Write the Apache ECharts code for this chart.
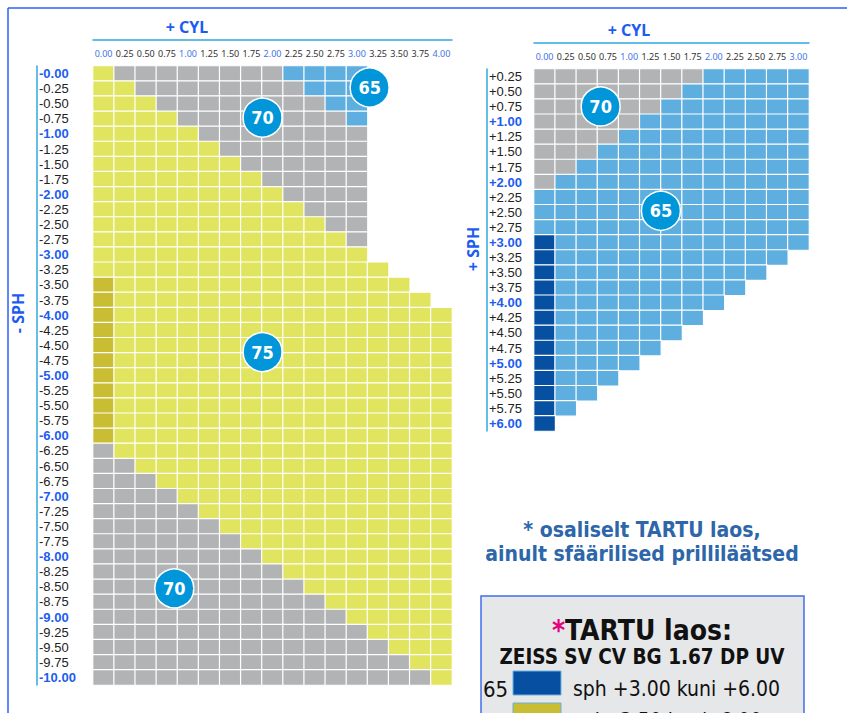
<!DOCTYPE html>
<html>
<head>
<meta charset="utf-8">
<script src="https://cdn.jsdelivr.net/npm/echarts@6/dist/echarts.min.js"></script>
<style>
  html, body { margin: 0; padding: 0; background: #fff; }
  #chart { width: 847px; height: 713px; }
</style>
</head>
<body>
<div id="chart"></div>
<script>
// ---- data ----
const leftCyl = ['0.00','0.25','0.50','0.75','1.00','1.25','1.50','1.75','2.00','2.25','2.50','2.75','3.00','3.25','3.50','3.75','4.00'];
const leftSph = ['-0.00','-0.25','-0.50','-0.75','-1.00','-1.25','-1.50','-1.75','-2.00','-2.25','-2.50','-2.75',
  '-3.00','-3.25','-3.50','-3.75','-4.00','-4.25','-4.50','-4.75','-5.00','-5.25','-5.50','-5.75','-6.00',
  '-6.25','-6.50','-6.75','-7.00','-7.25','-7.50','-7.75','-8.00','-8.25','-8.50','-8.75','-9.00','-9.25',
  '-9.50','-9.75','-10.00'];
const rightCyl = ['0.00','0.25','0.50','0.75','1.00','1.25','1.50','1.75','2.00','2.25','2.50','2.75','3.00'];
const rightSph = ['+0.25','+0.50','+0.75','+1.00','+1.25','+1.50','+1.75','+2.00','+2.25','+2.50','+2.75','+3.00',
  '+3.25','+3.50','+3.75','+4.00','+4.25','+4.50','+4.75','+5.00','+5.25','+5.50','+5.75','+6.00'];

// one char per cyl column: Y = 1.67 index 75, D = 75 in Tartu stock, G = 70, B = 65, K = 65 in Tartu stock
const leftRows = [
  'YGGGGGGGGBBBB',
  'YYGGGGGGGGBBB',
  'YYYGGGGGGGGBB',
  'YYYYGGGGGGGGB',
  'YYYYYGGGGGGGG',
  'YYYYYYGGGGGGG',
  'YYYYYYYGGGGGG',
  'YYYYYYYYGGGGG',
  'YYYYYYYYYGGGG',
  'YYYYYYYYYYGGG',
  'YYYYYYYYYYYGG',
  'YYYYYYYYYYYYG',
  'YYYYYYYYYYYYY',
  'YYYYYYYYYYYYYY',
  'DYYYYYYYYYYYYYY',
  'DYYYYYYYYYYYYYYY',
  'DYYYYYYYYYYYYYYYY',
  'DYYYYYYYYYYYYYYYY',
  'DYYYYYYYYYYYYYYYY',
  'DYYYYYYYYYYYYYYYY',
  'DYYYYYYYYYYYYYYYY',
  'DYYYYYYYYYYYYYYYY',
  'DYYYYYYYYYYYYYYYY',
  'DYYYYYYYYYYYYYYYY',
  'DYYYYYYYYYYYYYYYY',
  'GYYYYYYYYYYYYYYYY',
  'GGYYYYYYYYYYYYYYY',
  'GGGYYYYYYYYYYYYYY',
  'GGGGYYYYYYYYYYYYY',
  'GGGGGYYYYYYYYYYYY',
  'GGGGGGYYYYYYYYYYY',
  'GGGGGGGYYYYYYYYYY',
  'GGGGGGGGYYYYYYYYY',
  'GGGGGGGGGYYYYYYYY',
  'GGGGGGGGGGYYYYYYY',
  'GGGGGGGGGGGYYYYYY',
  'GGGGGGGGGGGGYYYYY',
  'GGGGGGGGGGGGGYYYY',
  'GGGGGGGGGGGGGGYYY',
  'GGGGGGGGGGGGGGGYY',
  'GGGGGGGGGGGGGGGGY'
];
const rightRows = [
  'GGGGGGGGBBBBB',
  'GGGGGGGBBBBBB',
  'GGGGGGBBBBBBB',
  'GGGGGBBBBBBBB',
  'GGGGBBBBBBBBB',
  'GGGBBBBBBBBBB',
  'GGBBBBBBBBBBB',
  'GBBBBBBBBBBBB',
  'BBBBBBBBBBBBB',
  'BBBBBBBBBBBBB',
  'BBBBBBBBBBBBB',
  'KBBBBBBBBBBBB',
  'KBBBBBBBBBBB',
  'KBBBBBBBBBB',
  'KBBBBBBBBB',
  'KBBBBBBBB',
  'KBBBBBBB',
  'KBBBBBB',
  'KBBBBB',
  'KBBBB',
  'KBBB',
  'KBB',
  'KB',
  'K'
];

// index badges (positions in column / row units)
const leftBadgeCyl = [12.6, 7.53, 7.53, 3.35];
const leftBadgeSph = [0.92, 2.92, 18.45, 34.1];
const leftBadgeText = ['65', '70', '75', '70'];
const rightBadgeCyl = [2.65, 5.5];
const rightBadgeSph = [1.98, 8.9];
const rightBadgeText = ['70', '65'];

const legendIndex = ['65', '75'];
const legendCode = ['K', 'D'];
const legendRange = ['sph +3.00 kuni +6.00', 'sph -3.50 kuni -6.00'];

// ---- styles ----
const cellColor = { Y: '#e1e45f', D: '#c9bd33', G: '#b1b3b5', B: '#5eaedf', K: '#0750a1' };
const cellIndex = { Y: 75, D: 75, G: 70, B: 65, K: 65 };
const blue = '#1d5cf0';
const lineBlue = '#2fa8e2';
const condensed = '"DejaVu Sans Condensed", "Liberation Sans Narrow", "Open Sans", sans-serif';
const labelFont = '"Liberation Sans", Arial, sans-serif';

function buildCells(rows) {
  const out = [];
  rows.forEach((row, r) => {
    row.split('').forEach((code, c) => {
      out.push({ value: [c, r, cellIndex[code]], itemStyle: { color: cellColor[code] } });
    });
  });
  return out;
}

function buildBadges(xs, ys, texts) {
  return xs.map((x, i) => [x, ys[i], texts[i]]);
}

const topLabel = {
  inside: true,
  margin: 8,
  fontSize: 9,
  fontFamily: 'Noto Sans',
  interval: 0,
  formatter: v => (v.endsWith('.00') ? '{w|' + v + '}' : '{n|' + v + '}'),
  rich: {
    w: { color: '#3f74e8', fontSize: 9, lineHeight: 11, fontFamily: 'Noto Sans' },
    n: { color: '#333', fontSize: 9, lineHeight: 11, fontFamily: 'Noto Sans' }
  }
};
const sideLabel = {
  inside: true,
  margin: 2,
  align: 'left',
  interval: 0,
  fontFamily: labelFont,
  fontSize: 13,
  formatter: v => (v.endsWith('.00') ? '{w|' + v + '}' : '{n|' + v + '}'),
  rich: {
    w: { color: blue, fontSize: 13, lineHeight: 14, fontWeight: 'bold', fontFamily: labelFont },
    n: { color: '#222', fontSize: 13, lineHeight: 14, fontFamily: labelFont }
  }
};

const chart = echarts.init(document.getElementById('chart'), null, { renderer: 'svg' });

const leftGrid = { left: 93, top: 66, width: 359, height: 619 };
const rightGrid = { left: 534, top: 69, width: 275, height: 362 };

const option = {
  animation: false,
  grid: [leftGrid, rightGrid, leftGrid, rightGrid],
  xAxis: [
    {
      type: 'category', gridIndex: 0, data: leftCyl, position: 'top', offset: 26,
      axisLine: { lineStyle: { color: lineBlue, width: 1.5 } },
      axisTick: { show: false }, splitLine: { show: false },
      axisLabel: topLabel
    },
    {
      type: 'category', gridIndex: 1, data: rightCyl, position: 'top', offset: 26,
      axisLine: { lineStyle: { color: lineBlue, width: 1.5 } },
      axisTick: { show: false }, splitLine: { show: false },
      axisLabel: topLabel
    },
    { type: 'value', gridIndex: 2, min: -0.5, max: leftCyl.length - 0.5, show: false },
    { type: 'value', gridIndex: 3, min: -0.5, max: rightCyl.length - 0.5, show: false }
  ],
  yAxis: [
    {
      type: 'category', gridIndex: 0, data: leftSph, inverse: true, offset: 56,
      axisLine: { lineStyle: { color: lineBlue, width: 1.5 } },
      axisTick: { show: false }, splitLine: { show: false },
      axisLabel: sideLabel
    },
    {
      type: 'category', gridIndex: 1, data: rightSph, inverse: true, offset: 47,
      axisLine: { lineStyle: { color: lineBlue, width: 1.5 } },
      axisTick: { show: false }, splitLine: { show: false },
      axisLabel: sideLabel
    },
    { type: 'value', gridIndex: 2, min: -0.5, max: leftSph.length - 0.5, inverse: true, show: false },
    { type: 'value', gridIndex: 3, min: -0.5, max: rightSph.length - 0.5, inverse: true, show: false }
  ],
  series: [
    {
      type: 'heatmap', xAxisIndex: 0, yAxisIndex: 0, data: buildCells(leftRows),
      itemStyle: { borderColor: '#fff', borderWidth: 1.2 },
      emphasis: { disabled: true }
    },
    {
      type: 'heatmap', xAxisIndex: 1, yAxisIndex: 1, data: buildCells(rightRows),
      itemStyle: { borderColor: '#fff', borderWidth: 1.2 },
      emphasis: { disabled: true }
    },
    {
      type: 'scatter', xAxisIndex: 2, yAxisIndex: 2, data: buildBadges(leftBadgeCyl, leftBadgeSph, leftBadgeText),
      symbolSize: 39, itemStyle: { color: '#0096d9', borderColor: '#fff', borderWidth: 1.5, opacity: 1 },
      label: { show: true, position: 'inside', formatter: p => p.value[2], color: '#fff', fontSize: 18, fontWeight: 'bold', fontFamily: condensed },
      emphasis: { disabled: true }
    },
    {
      type: 'scatter', xAxisIndex: 3, yAxisIndex: 3, data: buildBadges(rightBadgeCyl, rightBadgeSph, rightBadgeText),
      symbolSize: 39, itemStyle: { color: '#0096d9', borderColor: '#fff', borderWidth: 1.5, opacity: 1 },
      label: { show: true, position: 'inside', formatter: p => p.value[2], color: '#fff', fontSize: 18, fontWeight: 'bold', fontFamily: condensed },
      emphasis: { disabled: true }
    }
  ],
  graphic: [
    // page frame
    { type: 'line', shape: { x1: 8, y1: 8, x2: 847, y2: 8 }, style: { stroke: '#2a5ff5', lineWidth: 1.5 } },
    { type: 'line', shape: { x1: 8, y1: 8, x2: 8, y2: 713 }, style: { stroke: '#2a5ff5', lineWidth: 1.5 } },
    // axis titles
    { type: 'text', x: 187, y: 27, style: { text: '+ CYL', fill: blue, fontSize: 16, fontWeight: 'bold', fontFamily: 'Noto Sans', align: 'center', verticalAlign: 'middle' } },
    { type: 'text', x: 629, y: 30, style: { text: '+ CYL', fill: blue, fontSize: 16, fontWeight: 'bold', fontFamily: 'Noto Sans', align: 'center', verticalAlign: 'middle' } },
    { type: 'text', x: 18, y: 313, rotation: Math.PI / 2, style: { text: '- SPH', fill: blue, fontSize: 16, fontWeight: 'bold', fontFamily: 'Noto Sans', align: 'center', verticalAlign: 'middle' } },
    { type: 'text', x: 473, y: 249, rotation: Math.PI / 2, style: { text: '+ SPH', fill: blue, fontSize: 16, fontWeight: 'bold', fontFamily: 'Noto Sans', align: 'center', verticalAlign: 'middle' } },
    // note
    { type: 'text', x: 642, y: 530, style: { text: '* osaliselt TARTU laos,', fill: '#2d66a9', fontSize: 21, fontWeight: 'bold', fontFamily: condensed, align: 'center', verticalAlign: 'middle' } },
    { type: 'text', x: 642, y: 554, style: { text: 'ainult sfäärilised prilliläätsed', fill: '#2d66a9', fontSize: 21, fontWeight: 'bold', fontFamily: condensed, align: 'center', verticalAlign: 'middle' } },
    // stock legend box
    { type: 'rect', shape: { x: 481, y: 596, width: 323, height: 200 }, style: { fill: '#e6e7e8', stroke: '#3f6ff0', lineWidth: 1.5 } },
    {
      type: 'text', x: 642, y: 630,
      style: {
        text: '{p|*}{t|TARTU laos:}', align: 'center', verticalAlign: 'middle',
        rich: {
          p: { fill: '#e5007d', fontSize: 28, fontWeight: 'bold', fontFamily: condensed },
          t: { fill: '#111', fontSize: 28, fontWeight: 'bold', fontFamily: condensed }
        }
      }
    },
    { type: 'text', x: 642, y: 657, style: { text: 'ZEISS SV CV BG 1.67 DP UV', fill: '#111', fontSize: 20.5, fontWeight: 'bold', fontFamily: condensed, align: 'center', verticalAlign: 'middle' } }
  ].concat(...legendIndex.map((idx, i) => [
    { type: 'text', x: 483, y: 689 + i * 32, style: { text: idx, fill: '#111', fontSize: 22, fontFamily: condensed, align: 'left', verticalAlign: 'middle' } },
    { type: 'rect', shape: { x: 513, y: 671 + i * 32, width: 48, height: 24 }, style: { fill: cellColor[legendCode[i]], stroke: '#6ab0e0', lineWidth: 1 } },
    { type: 'text', x: 573, y: 689 + i * 32, style: { text: legendRange[i], fill: '#111', fontSize: 21, fontFamily: condensed, align: 'left', verticalAlign: 'middle' } }
  ]))
};

chart.setOption(option);
</script>
</body>
</html>
